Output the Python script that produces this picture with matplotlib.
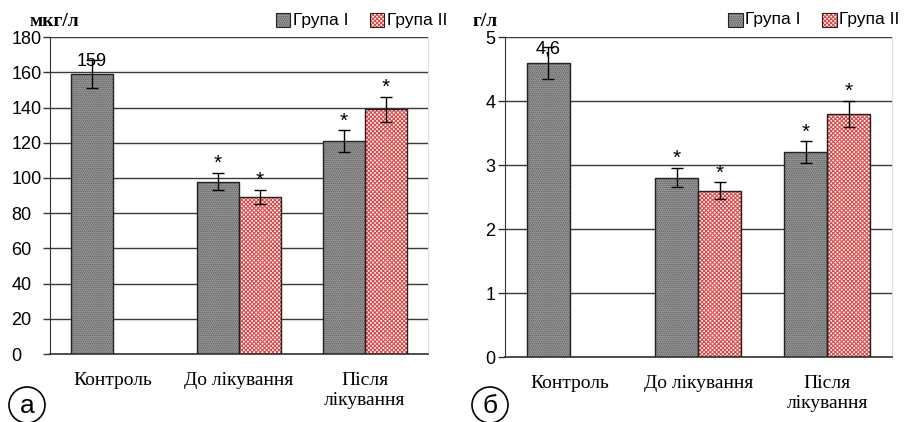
import matplotlib
matplotlib.use("Agg")
import matplotlib.pyplot as plt
import numpy as np
from matplotlib.patches import Ellipse, Rectangle

categories = ["Контроль", "До лікування", "Після\nлікування"]
legend_labels = ["Група I", "Група II"]

# panel a (мкг/л)
a_g1 = [159, 98, 121]
a_g1_err = [8, 5, 6]
a_g2 = [np.nan, 89, 139]
a_g2_err = [np.nan, 4, 7]
a_yticks = [0, 20, 40, 60, 80, 100, 120, 140, 160, 180]

# panel б (г/л)
b_g1 = [4.6, 2.8, 3.2]
b_g1_err = [0.25, 0.15, 0.17]
b_g2 = [np.nan, 2.6, 3.8]
b_g2_err = [np.nan, 0.13, 0.2]
b_yticks = [0, 1, 2, 3, 4, 5]

plt.rcParams['hatch.linewidth'] = 0.8

W, H = 910, 422
fig = plt.figure(figsize=(W / 100, H / 100), dpi=100)

GREY_FACE = '#a0a0a0'
GREY_HATCH = '#555555'
RED_HATCH = '#e04848'

def draw_panel(ax, g1, g1e, g2, g2e, yticks, unit, unit_x, label_first, left_labels, leg_x):
    x = np.arange(len(categories))
    w = 1/3
    ax.bar(x - w/2, g1, w, color=GREY_FACE, edgecolor=GREY_HATCH, hatch='........', linewidth=0, zorder=2)
    ax.bar(x - w/2, g1, w, color='none', edgecolor='#222222', linewidth=1.0, zorder=3)
    ax.bar(x + w/2, g2, w, color='white', edgecolor=RED_HATCH, hatch='xxxxxxxx', linewidth=0, zorder=2)
    ax.bar(x + w/2, g2, w, color='none', edgecolor='#222222', linewidth=1.0, zorder=3)
    ax.errorbar(x - w/2, g1, yerr=g1e, fmt='none', ecolor='black', elinewidth=1, capsize=4, capthick=1, zorder=4)
    ax.errorbar(x + w/2, g2, yerr=g2e, fmt='none', ecolor='black', elinewidth=1, capsize=4, capthick=1, zorder=4)
    ymax = yticks[-1]
    for i in range(len(categories)):
        if i == 0:
            ax.text(x[i] - w/2, g1[i] + g1e[i] * 0.3, label_first, ha='center', va='bottom',
                    fontsize=13, family='Liberation Sans', zorder=5)
        else:
            for xx, v, e in [(x[i] - w/2, g1[i], g1e[i]), (x[i] + w/2, g2[i], g2e[i])]:
                ax.text(xx, v + e, '*', ha='center', va='bottom', fontsize=15,
                        family='Liberation Sans', zorder=5)
    ax.set_xlim(-0.5, 2.5)
    ax.set_ylim(0, ymax)
    ax.set_yticks(yticks)
    ax.yaxis.grid(True, color='#3a3a3a', linewidth=1.0, zorder=1)
    ax.set_axisbelow(True)
    ax.set_xticks(x)
    ax.set_xticklabels(categories, family='Liberation Serif', fontsize=14, linespacing=1.25)
    ax.tick_params(axis='x', length=0, pad=13)
    ax.tick_params(axis='y', length=5, width=1, color='#333333', labelsize=13)
    for lab in ax.get_yticklabels():
        lab.set_family('Liberation Sans')
        if left_labels:
            lab.set_horizontalalignment('left')
    if left_labels:
        ax.tick_params(axis='y', pad=23)
    else:
        ax.tick_params(axis='y', pad=2)
    ax.spines['top'].set_visible(False)
    ax.spines['right'].set_color('#dddddd')
    ax.spines['left'].set_color('#333333')
    ax.spines['bottom'].set_color('#333333')
    ax.spines['bottom'].set_linewidth(1.2)
    ax.text(unit_x, 1.036, unit, transform=ax.transAxes, ha='left', va='baseline',
            family='Liberation Serif', fontweight='bold', fontsize=14)
    # legend
    bw, bh = 0.038, 0.043
    yc = 1.054
    for k, (face, hcol, hatch) in enumerate([(GREY_FACE, GREY_HATCH, '........'),
                                              ('white', RED_HATCH, 'xxxxxxxx')]):
        x0 = leg_x[k]
        ax.add_patch(Rectangle((x0, yc - bh / 2), bw, bh, transform=ax.transAxes, clip_on=False,
                               facecolor=face, edgecolor=hcol, hatch=hatch, linewidth=0))
        ax.add_patch(Rectangle((x0, yc - bh / 2), bw, bh, transform=ax.transAxes, clip_on=False,
                               facecolor='none', edgecolor='#222222', linewidth=0.8))
        ax.text(x0 + bw + 0.006, yc, legend_labels[k], transform=ax.transAxes, ha='left', va='center',
                family='Liberation Sans', fontsize=12.5)

ax1 = fig.add_axes([0.055, 0.161, 0.415, 0.751])
draw_panel(ax1, a_g1, a_g1_err, a_g2, a_g2_err, a_yticks, 'мкг/л', -0.055, '159', True, [0.598, 0.847])
ax2 = fig.add_axes([0.555, 0.154, 0.425, 0.758])
draw_panel(ax2, b_g1, b_g1_err, b_g2, b_g2_err, b_yticks, 'г/л', -0.085, '4,6', False, [0.576, 0.82])

# panel letters
for cx, letter in [(27, 'а'), (490, 'б')]:
    cy = 405
    fig.patches.append(Ellipse((cx / W, 1 - cy / H), 36 / W, 36 / H, transform=fig.transFigure,
                               facecolor='none', edgecolor='black', linewidth=1.2))
    fig.text(cx / W, 1 - (cy + 1) / H, letter, ha='center', va='center', fontsize=19,
             family='Liberation Sans')

fig.savefig('out.png', dpi=100)
